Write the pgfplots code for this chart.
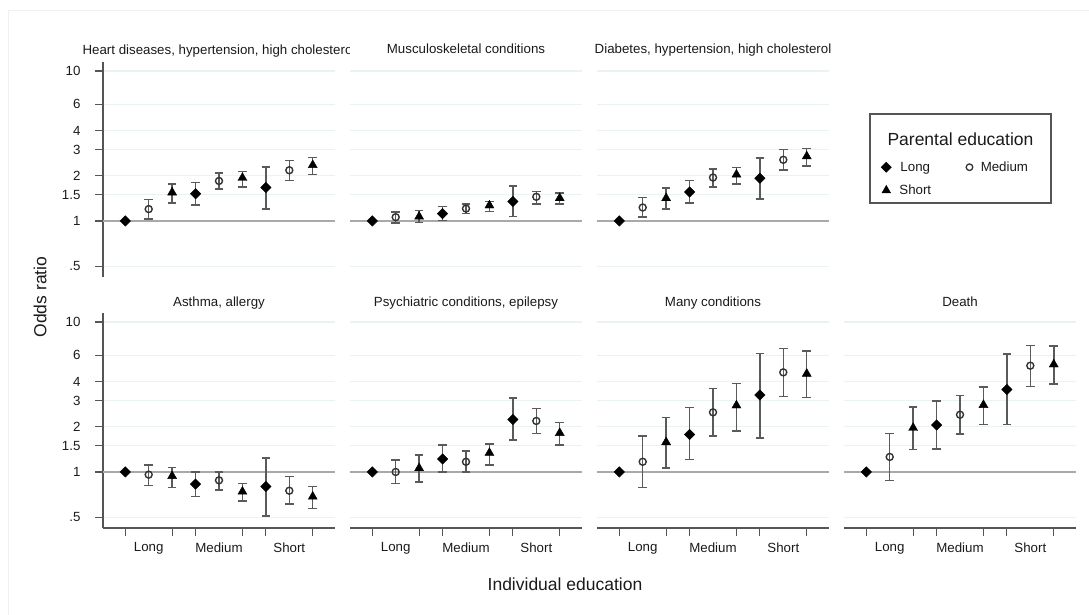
\documentclass[border=0pt]{standalone}
\usepackage{pgfplots}
\usepackage{pgfplotstable}
\pgfplotsset{compat=1.18}
\usepackage{fontspec}
\setmainfont{Liberation Sans}
\definecolor{gridc}{HTML}{EAF2F3}
\definecolor{refc}{HTML}{A9A9A9}
\definecolor{errc}{HTML}{5A5A5A}
\definecolor{axisc}{HTML}{555555}
\definecolor{textc}{HTML}{1A1A1A}
\definecolor{circc}{HTML}{333333}
\definecolor{borderc}{HTML}{F0F0F0}
\newcommand\fsz{\fontsize{13.3bp}{16bp}\selectfont}
\newcommand\flz{\fontsize{17.5bp}{21bp}\selectfont}

\pgfplotstableread{
x y lo hi
1 1.00 1.00 1.00
2 1.20 1.03 1.39
3 1.55 1.32 1.76
4 1.52 1.28 1.80
5 1.85 1.63 2.09
6 1.94 1.69 2.14
7 1.67 1.20 2.29
8 2.18 1.86 2.53
9 2.36 2.05 2.66
}\tabHeart
\pgfplotstableread{
x y lo hi
1 1.00 1.00 1.00
2 1.06 0.97 1.15
3 1.07 0.98 1.18
4 1.12 1.005 1.25
5 1.21 1.12 1.30
6 1.27 1.16 1.35
7 1.35 1.07 1.71
8 1.45 1.30 1.58
9 1.42 1.30 1.54
}\tabMusc
\pgfplotstableread{
x y lo hi
1 1.00 1.00 1.00
2 1.23 1.06 1.44
3 1.42 1.20 1.66
4 1.56 1.32 1.86
5 1.95 1.69 2.22
6 2.04 1.76 2.28
7 1.93 1.40 2.63
8 2.56 2.19 3.00
9 2.70 2.33 3.05
}\tabDiab
\pgfplotstableread{
x y lo hi
1 1.00 1.00 1.00
2 0.96 0.815 1.11
3 0.94 0.786 1.07
4 0.83 0.685 1.00
5 0.88 0.76 1.00
6 0.74 0.64 0.84
7 0.80 0.51 1.24
8 0.75 0.61 0.93
9 0.685 0.57 0.80
}\tabAsth
\pgfplotstableread{
x y lo hi
1 1.00 1.00 1.00
2 1.00 0.84 1.20
3 1.06 0.86 1.30
4 1.22 1.00 1.51
5 1.17 1.00 1.38
6 1.34 1.11 1.54
7 2.24 1.63 3.11
8 2.19 1.81 2.64
9 1.82 1.51 2.14
}\tabPsych
\pgfplotstableread{
x y lo hi
1 1.00 1.00 1.00
2 1.17 0.79 1.74
3 1.58 1.06 2.31
4 1.78 1.21 2.69
5 2.50 1.74 3.59
6 2.78 1.88 3.90
7 3.26 1.69 6.20
8 4.62 3.18 6.67
9 4.52 3.13 6.43
}\tabMany
\pgfplotstableread{
x y lo hi
1 1.00 1.00 1.00
2 1.26 0.88 1.80
3 1.97 1.41 2.71
4 2.06 1.42 2.97
5 2.41 1.79 3.24
6 2.80 2.07 3.70
7 3.55 2.07 6.13
8 5.12 3.72 6.98
9 5.22 3.86 6.92
}\tabDeath

% #1 = table, #2 = residue of x mod 3, #3 = mark options
\newcommand\mygroup[3]{%
\addplot[only marks, #3,
    x filter/.expression={abs(mod(x,3)-#2)<0.1 ? x : nan},
    error bars/y dir=both, error bars/y explicit,
    error bars/error bar style={color=errc, line width=1.5bp},
    error bars/error mark options={rotate=90, color=errc, line width=1.4bp, mark size=4.3bp}]
  table[x=x, y=y,
    y error plus expr=\thisrow{hi}-\thisrow{y},
    y error minus expr=\thisrow{y}-\thisrow{lo}] {#1};}

% #1 = position, #2 = extra axis options, #3 = table
\newcommand\mypanel[3]{%
\begin{axis}[scale only axis, width=232bp, height=215bp,
    at={#1}, anchor=south west,
    xmin=0.05, xmax=9.95, ymode=log, ymin=0.423, ymax=11.5,
    ytick={0.5,1,1.5,2,3,4,6,10}, yticklabels={.5,1,1.5,2,3,4,6,10},
    ymajorgrids, grid style={color=gridc, line width=1.2bp},
    axis x line*=bottom, axis y line*=left,
    tick align=outside, major tick length=8bp,
    tick style={color=axisc, line width=1.2bp},
    axis line style={color=axisc, line width=1.5bp},
    tick label style={font=\fsz, color=textc},
    yticklabel style={xshift=-11bp},
    xticklabel style={yshift=-3bp},
    title style={font=\fsz, color=textc, at={(0.5,1)}, anchor=base, yshift=3bp},
    clip=false, #2]
\addplot[color=refc, line width=1.8bp, forget plot] coordinates {(0.05,1) (9.95,1)};
\mygroup{#3}{1}{mark=square*, mark size=3.7bp, mark options={rotate=45, draw=black, fill=black}}
\mygroup{#3}{2}{mark=o, mark size=3.5bp, mark options={draw=circc, fill=white, line width=1.4bp}}
\mygroup{#3}{0}{mark=triangle*, mark size=5.2bp, mark options={draw=black, fill=black}}
\end{axis}}

\begin{document}
\begin{tikzpicture}[x=1bp, y=1bp]
\path[use as bounding box] (0,0) rectangle (1089,615);
\draw[borderc, line width=1bp] (8.5,0) -- (8.5,604) -- (1089,604);

% top row
\mypanel{(103bp,338bp)}{xtick=\empty, x axis line style={draw=none}}{\tabHeart}
\mypanel{(350bp,338bp)}{xtick=\empty, x axis line style={draw=none},
  y axis line style={draw=none}, ytick style={draw=none}, yticklabels={},
  title={Musculoskeletal conditions}}{\tabMusc}
\mypanel{(597bp,338bp)}{xtick=\empty, x axis line style={draw=none},
  y axis line style={draw=none}, ytick style={draw=none}, yticklabels={},
  title={Diabetes, hypertension, high cholesterol}}{\tabDiab}

% bottom row
\mypanel{(103bp,87bp)}{xtick={1,3,4,6,7,9}, xticklabels={},
  extra x ticks={2,5,8}, extra x tick labels={Long,Medium,Short},
  extra x tick style={major tick style={draw=none}},
  title style={yshift=-2bp}, title={Asthma, allergy}}{\tabAsth}
\mypanel{(350bp,87bp)}{xtick={1,3,4,6,7,9}, xticklabels={},
  extra x ticks={2,5,8}, extra x tick labels={Long,Medium,Short},
  extra x tick style={major tick style={draw=none}},
  y axis line style={draw=none}, ytick style={draw=none}, yticklabels={},
  title style={yshift=-2bp}, title={Psychiatric conditions, epilepsy}}{\tabPsych}
\mypanel{(597bp,87bp)}{xtick={1,3,4,6,7,9}, xticklabels={},
  extra x ticks={2,5,8}, extra x tick labels={Long,Medium,Short},
  extra x tick style={major tick style={draw=none}},
  y axis line style={draw=none}, ytick style={draw=none}, yticklabels={},
  title style={yshift=-2bp}, title={Many conditions}}{\tabMany}
\mypanel{(844bp,87bp)}{xtick={1,3,4,6,7,9}, xticklabels={},
  extra x ticks={2,5,8}, extra x tick labels={Long,Medium,Short},
  extra x tick style={major tick style={draw=none}},
  y axis line style={draw=none}, ytick style={draw=none}, yticklabels={},
  title style={yshift=-2bp}, title={Death}}{\tabDeath}

% legend
\begin{axis}[hide axis, scale only axis, width=10bp, height=10bp,
  at={(881bp,455.5bp)}, anchor=south west,
  xmin=0, xmax=1, ymin=0, ymax=1,
  legend columns=2,
  legend image code/.code={\draw[#1] plot coordinates {(0bp,0bp)};},
  legend style={at={(0,0)}, anchor=north west, draw=none, fill=none,
    inner sep=0pt, font=\fsz, text=textc, row sep=8bp,
    /tikz/column 1/.style={column sep=6bp},
    /tikz/column 2/.style={column sep=33bp},
    /tikz/column 3/.style={column sep=6bp}}]
\addlegendimage{only marks, mark=square*, mark size=3.6bp, mark options={rotate=45, draw=black, fill=black}}
\addlegendentry{Long}
\addlegendimage{only marks, mark=o, mark size=3.3bp, mark options={draw=circc, fill=white, line width=1.3bp}}
\addlegendentry{Medium}
\addlegendimage{only marks, mark=triangle*, mark size=5bp, mark options={draw=black, fill=black}}
\addlegendentry{Short}
\end{axis}
\draw[axisc, line width=1.2bp] (870,412) rectangle (1051,501);
\node[font=\flz, text=textc, anchor=base] at (960.5,469.3) {Parental education};

% clipped title of panel 1
\begin{scope}
\clip (0,540) rectangle (349.5,600);
\node[font=\fsz, text=textc, anchor=base] at (219,560) {Heart diseases, hypertension, high cholesterol};
\end{scope}

% axis titles
\node[font=\flz, text=textc, rotate=90] at (40,318) {Odds ratio};
\node[font=\flz, text=textc] at (565,31) {Individual education};
\end{tikzpicture}
\end{document}
